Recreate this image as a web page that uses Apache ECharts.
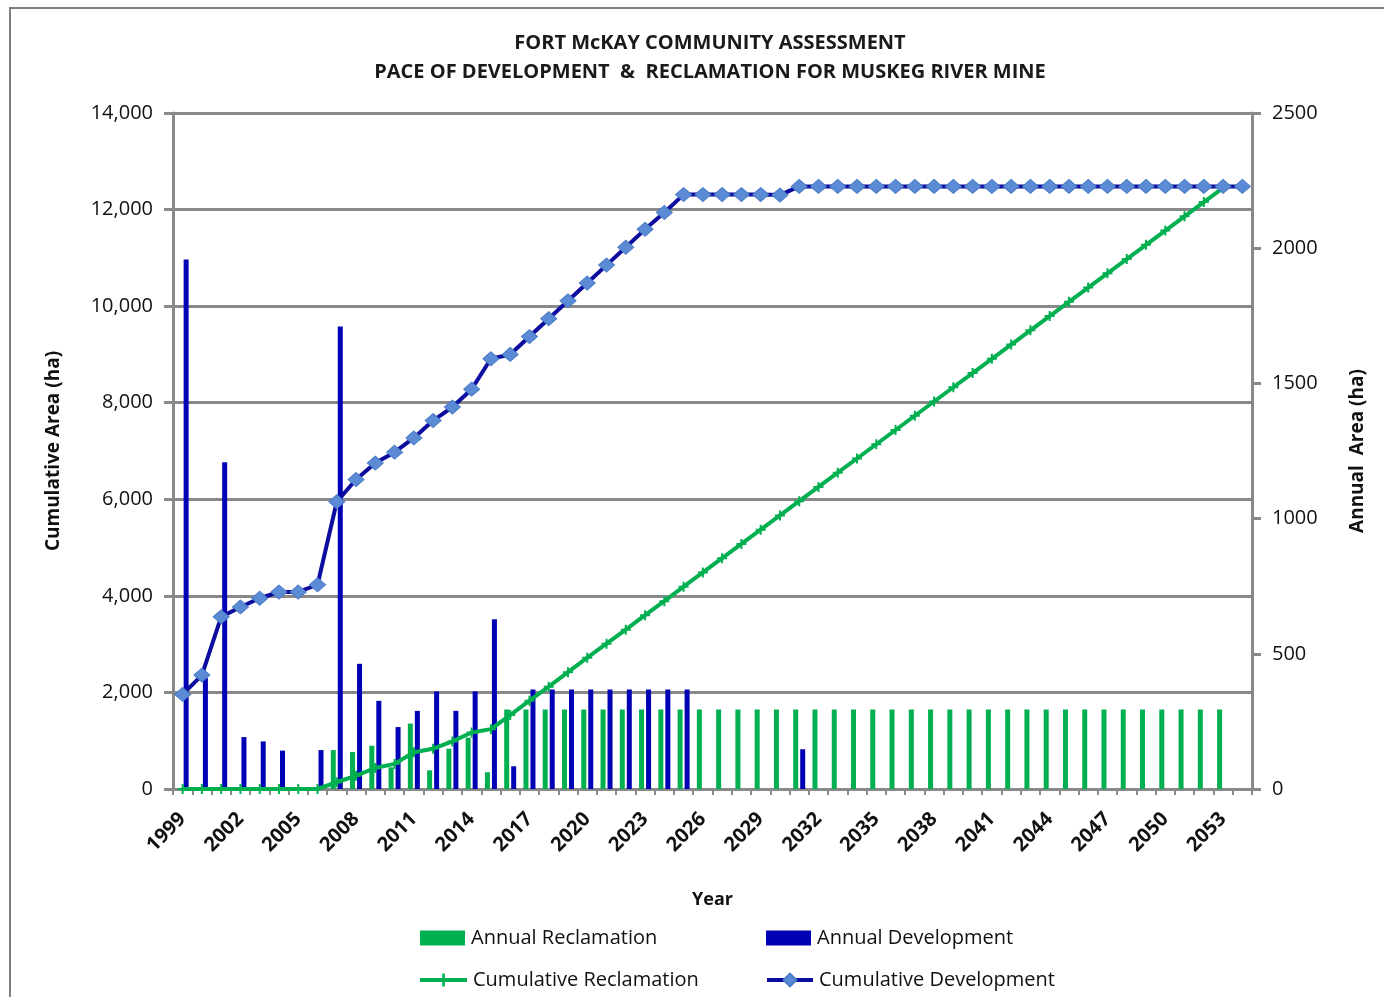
<!DOCTYPE html>
<html>
<head>
<meta charset="utf-8">
<script src="https://cdn.jsdelivr.net/npm/echarts@6/dist/echarts.min.js"></script>
<style>
html,body{margin:0;padding:0;background:#fff;}
#chart{width:1384px;height:997px;}
</style>
</head>
<body>
<div id="chart"></div>
<script>
var years = ['1999','2000','2001','2002','2003','2004','2005','2006','2007','2008',
  '2009','2010','2011','2012','2013','2014','2015','2016','2017','2018',
  '2019','2020','2021','2022','2023','2024','2025','2026','2027','2028',
  '2029','2030','2031','2032','2033','2034','2035','2036','2037','2038',
  '2039','2040','2041','2042','2043','2044','2045','2046','2047','2048',
  '2049','2050','2051','2052','2053','2054'];

var annualReclamation = [null,null,null,null,null,null,null,null,
  144,137,160,80,242,69,149,190,62,
  294,294,294,294,294,294,294,294,294,294,
  294,294,294,294,294,294,294,294,294,294,
  294,294,294,294,294,294,294,294,294,294,
  294,294,294,294,294,294,294,294,
  null];

var annualDevelopment = [1958,410,1208,192,176,142,null,144,1710,463,
  326,229,289,361,289,361,628,84,
  368,368,368,368,368,368,368,368,368,
  null,null,null,null,null,
  147,
  null,null,null,null,null,null,null,null,null,null,null,null,
  null,null,null,null,null,null,null,null,null,null,null];

var cumulativeReclamation = [0,0,0,0,0,0,0,0,
  140,275,435,520,760,835,985,1170,1240,1530,
  1830,2120,2420,2720,3010,3300,3600,3890,4190,4485,
  4780,5075,5370,5665,5960,6255,6550,6845,7140,7435,
  7730,8025,8320,8615,8910,9205,9500,9795,10090,10385,
  10680,10975,11270,11565,11860,12155,12450,
  null];

var cumulativeDevelopment = [1958,2360,3565,3770,3950,4080,4080,4230,5950,6410,
  6750,6975,7270,7630,7910,8280,8910,9000,9370,9740,
  10110,10480,10850,11220,11590,11940,12310,12310,12310,12310,
  12310,12300,12480,12480,12480,12480,12480,12480,12480,12480,
  12480,12480,12480,12480,12480,12480,12480,12480,12480,12480,
  12480,12480,12480,12480,12480,12480];

var leftTicks = [0,2000,4000,6000,8000,10000,12000,14000];
var rightTicks = [0,500,1000,1500,2000,2500];

var FONT = 'Open Sans';
var GREEN = '#00b050';
var BLUE = '#0000b4';
var GRID = '#898989';

var chart = echarts.init(document.getElementById('chart'), null, {renderer:'canvas'});

function legendAt(name, left, top, w, h, icon){
  var l = {
    data:[icon ? {name:name, icon:icon} : name], left:left, top:top, itemWidth:w, itemHeight:h, itemGap:0,
    padding:0,
    lineStyle:{width:4},
    textStyle:{fontFamily:FONT, fontSize:20, color:'#111', padding:[0,0,0,1]},
    selectedMode:false
  };
  return l;
}

chart.setOption({
  animation:false,
  backgroundColor:'#fff',
  title:{
    text:'FORT McKAY COMMUNITY ASSESSMENT\nPACE OF DEVELOPMENT  &  RECLAMATION FOR MUSKEG RIVER MINE',
    left:705, top:24, textAlign:'center',
    textStyle:{fontFamily:FONT, fontSize:20, fontWeight:'bold', color:'#1a1a1a', lineHeight:29}
  },
  graphic:[{
    type:'rect', silent:true, z:-10,
    shape:{x:10, y:8, width:1400, height:1000},
    style:{fill:null, stroke:'#7f7f7f', lineWidth:2}
  }],
  legend:[
    legendAt('Annual Reclamation', 420, 928, 45, 15, 'rect'),
    legendAt('Annual Development', 766, 928, 45, 15, 'rect'),
    legendAt('Cumulative Reclamation', 418, 970, 47, 16),
    legendAt('Cumulative Development', 765, 970, 46, 16)
  ],
  grid:{left:173, right:132, top:113, bottom:208, containLabel:false},
  xAxis:{
    type:'category', data:years, boundaryGap:true,
    name:'Year', nameLocation:'middle', nameGap:102,
    nameTextStyle:{fontFamily:FONT, fontSize:18, fontWeight:'bold', color:'#111'},
    axisLine:{lineStyle:{color:GRID, width:3}},
    axisTick:{show:true, interval:0, length:6, lineStyle:{color:GRID, width:2}},
    axisLabel:{interval:2, rotate:45, margin:27, fontFamily:FONT, fontSize:20, fontWeight:'bold', color:'#111'},
    splitLine:{show:false}
  },
  yAxis:[{
    type:'value', min:0, max:14000, interval:2000, position:'left',
    name:'Cumulative Area (ha)', nameLocation:'middle', nameGap:110, nameRotate:90,
    nameTextStyle:{fontFamily:FONT, fontSize:19, fontWeight:'bold', color:'#111'},
    axisLine:{show:true, lineStyle:{color:GRID, width:3}},
    axisTick:{show:true, length:9, lineStyle:{color:GRID, width:3}},
    axisLabel:{margin:20, fontFamily:FONT, fontSize:20, color:'#111',
      formatter:function(v){return v.toLocaleString('en-US');}},
    splitLine:{show:true, lineStyle:{color:GRID, width:3}}
  },{
    type:'value', min:0, max:2500, interval:500, position:'right',
    name:'Annual  Area (ha)', nameLocation:'middle', nameGap:96, nameRotate:90,
    nameTextStyle:{fontFamily:FONT, fontSize:19, fontWeight:'bold', color:'#111'},
    axisLine:{show:true, lineStyle:{color:GRID, width:3}},
    axisTick:{show:true, length:9, lineStyle:{color:GRID, width:3}},
    axisLabel:{margin:20, fontFamily:FONT, fontSize:20, color:'#111',
      formatter:function(v){return String(v);}},
    splitLine:{show:false}
  }],
  series:[{
    name:'Annual Reclamation', type:'bar', yAxisIndex:1, data:annualReclamation,
    barWidth:5, barGap:'40%', itemStyle:{color:GREEN}, z:2
  },{
    name:'Annual Development', type:'bar', yAxisIndex:1, data:annualDevelopment,
    barWidth:5, barGap:'40%', itemStyle:{color:BLUE}, z:2
  },{
    name:'Cumulative Reclamation', type:'line', yAxisIndex:0, data:cumulativeReclamation,
    lineStyle:{color:GREEN, width:4}, itemStyle:{color:GREEN},
    symbol:'path://M4,0H6V4H10V6H6V10H4V6H0V4H4Z', symbolSize:10,
    showSymbol:true, showAllSymbol:true, z:3
  },{
    name:'Cumulative Development', type:'line', yAxisIndex:0, data:cumulativeDevelopment,
    lineStyle:{color:'#0c0c9e', width:4}, itemStyle:{color:'#5b8bd4', borderColor:'#4a7cc8', borderWidth:1},
    symbol:'diamond', symbolSize:[16,14], showSymbol:true, showAllSymbol:true, z:4
  }]
});
</script>
</body>
</html>
